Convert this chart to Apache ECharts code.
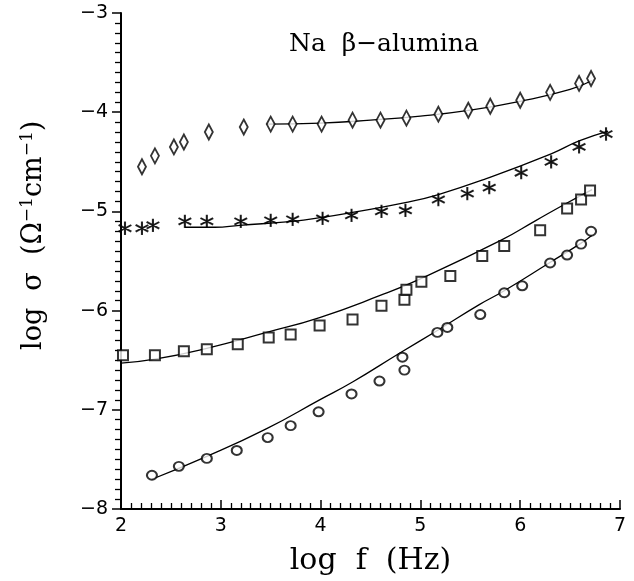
<!DOCTYPE html>
<html>
<head>
<meta charset="utf-8">
<script src="https://cdn.jsdelivr.net/npm/echarts@6/dist/echarts.min.js"></script>
<style>
html,body{margin:0;padding:0;background:#fff;}
#chart{width:634px;height:581px;}
</style>
</head>
<body>
<div id="chart"></div>
<script>
// data: [log f, log sigma]
var diamondPts = [[2.21,-4.55],[2.34,-4.44],[2.53,-4.35],[2.63,-4.30],[2.88,-4.20],[3.23,-4.15],
	[3.50,-4.12],[3.72,-4.12],[4.01,-4.12],[4.32,-4.08],[4.60,-4.08],[4.86,-4.06],[5.18,-4.02],
	[5.48,-3.98],[5.70,-3.94],[6.00,-3.88],[6.30,-3.80],[6.59,-3.71],[6.71,-3.66]];
var starPts = [[2.04,-5.17],[2.21,-5.17],[2.32,-5.14],[2.64,-5.10],[2.86,-5.10],[3.20,-5.10],
	[3.50,-5.09],[3.72,-5.08],[4.02,-5.07],[4.31,-5.04],[4.61,-5.00],[4.85,-4.99],[5.18,-4.88],
	[5.47,-4.82],[5.69,-4.76],[6.01,-4.61],[6.31,-4.50],[6.59,-4.35],[6.86,-4.22]];
var squarePts = [[2.02,-6.45],[2.34,-6.45],[2.63,-6.41],[2.86,-6.39],[3.17,-6.34],[3.48,-6.27],
	[3.70,-6.24],[3.99,-6.15],[4.32,-6.09],[4.61,-5.95],[4.84,-5.89],[4.86,-5.79],[5.01,-5.71],
	[5.30,-5.65],[5.62,-5.45],[5.84,-5.35],[6.20,-5.19],[6.47,-4.97],[6.61,-4.88],[6.70,-4.79]];
var circlePts = [[2.31,-7.66],[2.58,-7.57],[2.86,-7.49],[3.16,-7.41],[3.47,-7.28],[3.70,-7.16],
	[3.98,-7.02],[4.31,-6.84],[4.59,-6.71],[4.84,-6.60],[4.82,-6.47],[5.17,-6.22],[5.27,-6.17],
	[5.60,-6.04],[5.84,-5.82],[6.02,-5.75],[6.30,-5.52],[6.47,-5.44],[6.61,-5.33],[6.71,-5.20]];

// fitted curves
var diamondFit = [[3.46,-4.12],[4.0,-4.11],[4.5,-4.08],[5.0,-4.04],[5.5,-3.98],[6.0,-3.89],[6.5,-3.77],[6.72,-3.68]];
var starFit = [[2.64,-5.16],[2.94,-5.16],[3.19,-5.14],[3.72,-5.10],[4.02,-5.06],[4.32,-5.01],[4.86,-4.91],
	[5.18,-4.83],[5.66,-4.67],[6.31,-4.42],[6.59,-4.29],[6.88,-4.19]];
var squareFit = [[2.0,-6.53],[2.34,-6.49],[2.86,-6.38],[3.46,-6.22],[3.99,-6.07],[4.59,-5.85],[5.0,-5.68],
	[5.81,-5.29],[6.16,-5.09],[6.46,-4.92],[6.72,-4.78]];
var circleFit = [[2.31,-7.70],[2.86,-7.47],[3.46,-7.19],[3.99,-6.90],[4.32,-6.72],[4.79,-6.43],[5.17,-6.20],
	[5.59,-5.94],[5.84,-5.80],[6.29,-5.52],[6.61,-5.32],[6.72,-5.24]];

var xTicks = [2,3,4,5,6,7];
var yTicks = [-8,-7,-6,-5,-4,-3];

// asterisk shape
var starPath = 'path://M47,0L53,0L53,100L47,100Z' +
	'M5.2,72.6L91.8,22.6L94.8,27.8L8.2,77.8Z' +
	'M8.2,22.2L94.8,72.2L91.8,77.4L5.2,27.4Z';

function marks(data, symbol, size){
	return {
		type:'scatter', data:data, symbol:symbol, symbolSize:size,
		itemStyle:{color:'#000', borderColor:'#000', borderWidth:1.3},
		z:3
	};
}
function fit(data){
	return {
		type:'line', data:data, smooth:true, showSymbol:false,
		lineStyle:{color:'#000', width:1.3}, z:2
	};
}

var chart = echarts.init(document.getElementById('chart'));
var option = {
	backgroundColor:'#fff',
	animation:false,
	grid:{left:121, right:14, top:13, bottom:68},
	xAxis:{
		type:'value', min:xTicks[0], max:xTicks[xTicks.length-1], interval:1,
		axisLine:{lineStyle:{color:'#000', width:2}},
		axisTick:{inside:true, length:9, lineStyle:{color:'#000', width:1.5}},
		minorTick:{show:true, splitNumber:10, length:6, lineStyle:{color:'#000', width:1.3}},
		splitLine:{show:false},
		axisLabel:{color:'#000', fontSize:19, fontFamily:'DejaVu Sans', margin:8},
		name:'log  f  (Hz)', nameLocation:'middle', nameGap:37,
		nameTextStyle:{color:'#000', fontSize:30, fontFamily:'DejaVu Serif'}
	},
	yAxis:{
		type:'value', min:yTicks[0], max:yTicks[yTicks.length-1], interval:1,
		axisLine:{lineStyle:{color:'#000', width:2}},
		axisTick:{inside:false, length:9, lineStyle:{color:'#000', width:1.5}},
		minorTick:{show:true, splitNumber:10, length:6, lineStyle:{color:'#000', width:1.3}},
		splitLine:{show:false},
		axisLabel:{color:'#000', fontSize:19, fontFamily:'DejaVu Sans', margin:13,
			formatter:function(v){ return v < 0 ? '\u2212' + Math.abs(v) : '' + v; }}
	},
	graphic:[
		{type:'text', left:289, top:32, style:{text:'Na  \u03b2\u2212alumina', fill:'#000',
			font:'25px "DejaVu Serif"'}},
		{type:'text', x:19, y:350, rotation:Math.PI/2,
			style:{text:'log  \u03c3  (\u03a9{sup|\u22121}cm{sup|\u22121})', fill:'#000',
				font:'27px "DejaVu Serif"',
				rich:{sup:{fontSize:17, fontFamily:'DejaVu Serif', verticalAlign:'top', padding:[0,0,13,0]}}}}
	],
	series:[
		marks(diamondPts, 'emptyDiamond', [8,15]),
		marks(starPts, starPath, [12,12]),
		marks(squarePts, 'emptyRect', [10,10]),
		marks(circlePts, 'emptyCircle', [10,9]),
		fit(diamondFit), fit(starFit), fit(squareFit), fit(circleFit)
	]
};
chart.setOption(option);
</script>
</body>
</html>
